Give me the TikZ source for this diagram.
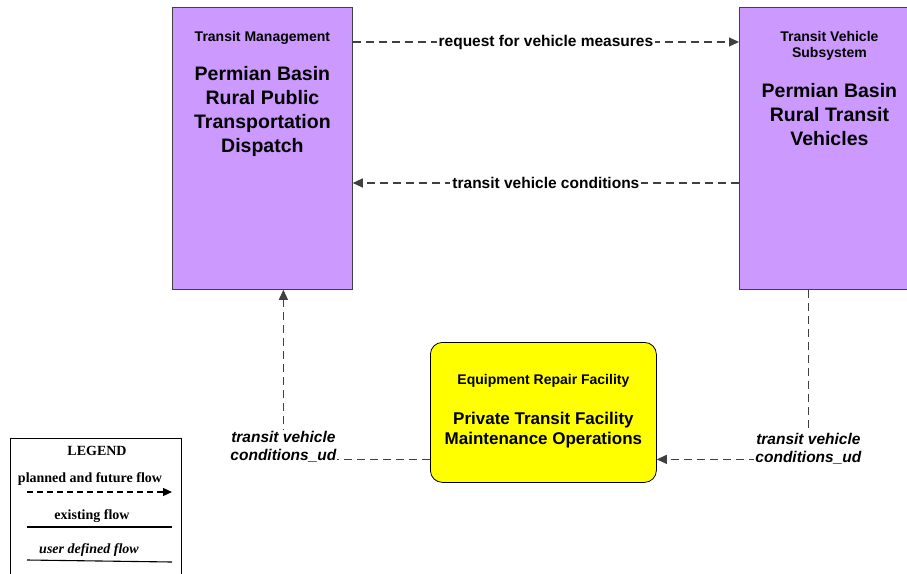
\documentclass[tikz,border=0pt]{standalone}
\usepackage{fontspec}
\setmainfont{Liberation Sans}
\newfontfamily\legendfont{Liberation Serif}
\usetikzlibrary{arrows.meta, positioning}
\definecolor{subsyscol}{HTML}{CC99FF}
\definecolor{termcol}{HTML}{FFFF00}
\tikzset{
  subsystem/.style={rectangle, draw=black!75, line width=0.8pt, fill=subsyscol, minimum width=180pt, minimum height=282pt, inner sep=0pt},
  terminator/.style={rectangle, rounded corners=12pt, draw=black, line width=0.8pt, fill=termcol, minimum width=226pt, minimum height=140pt, inner sep=0pt},
  sysname/.style={font=\fontsize{14}{16}\selectfont\bfseries, align=center, inner sep=1pt},
  sysbody/.style={font=\fontsize{19.5}{24}\selectfont\bfseries, align=center, inner sep=1pt},
  termbody/.style={font=\fontsize{17}{20}\selectfont\bfseries, align=center, inner sep=1pt},
  flow/.style={draw=black!75, line width=1.1pt, dash pattern=on 8pt off 5pt, -{Triangle[length=10pt,width=9pt]}},
  flowlabel/.style={font=\fontsize{15.5}{18}\selectfont\bfseries, fill=white, inner sep=2pt},
  udlabel/.style={font=\fontsize{15.5}{18}\selectfont\bfseries\itshape, fill=white, align=center, inner sep=1pt},
  legendtext/.style={font=\legendfont\fontsize{14}{16}\selectfont\bfseries, inner sep=1pt}
}
\begin{document}
\begin{tikzpicture}[x=1pt, y=-1pt]
  \useasboundingbox[fill=white] (0,0) rectangle (907,573);

  % subsystems
  \node [subsystem, anchor=north west] (tm) at (172,7) {};
  \node [sysname] (tmname) at ([yshift=-31]tm.north) {Transit Management};
  \node [sysbody] (tmbody) at ([yshift=-104]tm.north) {Permian Basin\\Rural Public\\Transportation\\Dispatch};

  \node [subsystem, anchor=north west] (tvs) at (739,7) {};
  \node [sysname] (tvsname) at ([yshift=-39]tvs.north) {Transit Vehicle\\Subsystem};
  \node [sysbody] (tvsbody) at ([yshift=-108]tvs.north) {Permian Basin\\Rural Transit\\Vehicles};

  % terminator
  \node [terminator, anchor=north west] (erf) at (430,342) {};
  \node [sysname] (erfname) at ([yshift=-39]erf.north) {Equipment Repair Facility};
  \node [termbody] (erfbody) at ([yshift=-88]erf.north) {Private Transit Facility\\Maintenance Operations};

  % flows
  \draw [flow] ([yshift=-35]tm.north east) -- node[flowlabel] {request for vehicle measures} ([yshift=-35]tvs.north west);
  \draw [flow] ([yshift=-176]tvs.north west) -- node[flowlabel] {transit vehicle conditions} ([yshift=-176]tm.north east);
  \draw [flow] ([yshift=-47]erf.west) -| node[udlabel, yshift=13] {transit vehicle\\conditions\_ud} ([xshift=21]tm.south);
  \draw [flow] ([xshift=-21]tvs.south) |- node[udlabel, pos=0.5, yshift=11] {transit vehicle\\conditions\_ud} ([yshift=-47]erf.east);

  % legend
  \node [rectangle, draw=black, line width=0.8pt, anchor=north west, minimum width=171pt, minimum height=145pt, inner sep=0pt] (legend) at (10,438) {};
  \node [legendtext] (legtitle) at (97,451) {LEGEND};
  \node [legendtext] (legplanned) at (90,479) {planned and future flow};
  \coordinate (plannedA) at (27,492);
  \coordinate (plannedB) at (172,492);
  \draw [draw=black, line width=1.1pt, dash pattern=on 6pt off 4pt, -{Triangle[length=9pt,width=8pt]}] (plannedA) -- (plannedB);
  \node [legendtext] (legexisting) at (92,516) {existing flow};
  \coordinate (existingA) at (27,527);
  \coordinate (existingB) at (172,527);
  \draw [line width=1.1pt] (existingA) -- (existingB);
  \node [legendtext, font=\legendfont\fontsize{14}{16}\selectfont\bfseries\itshape] (leguser) at (89,550) {user defined flow};
  \coordinate (userA) at (27,560);
  \coordinate (userB) at (172,562);
  \draw [line width=1.1pt] (userA) -- (userB);
\end{tikzpicture}
\end{document}
